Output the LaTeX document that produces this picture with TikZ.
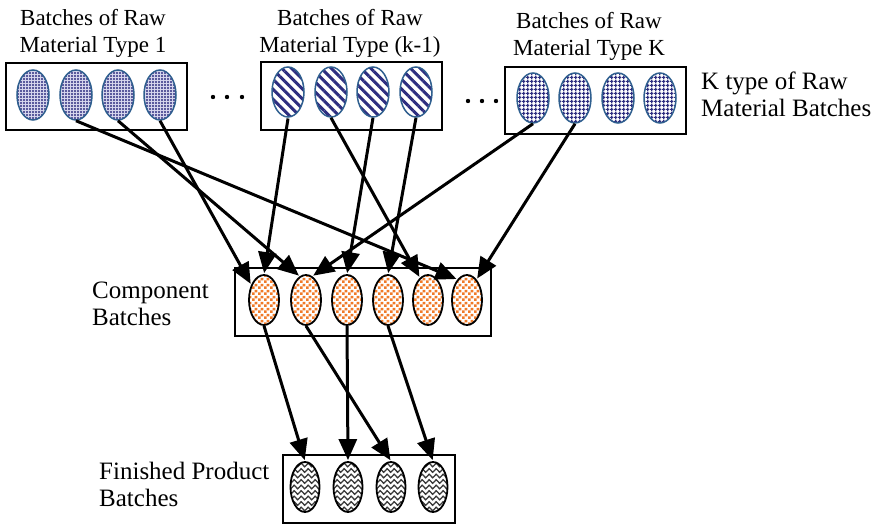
\documentclass[tikz,border=0pt]{standalone}
\usepackage{fontspec}
\setmainfont{Liberation Serif}
\usetikzlibrary{shapes.geometric, arrows.meta, patterns.meta, decorations.pathmorphing, calc}
\definecolor{navyp}{HTML}{2E2E80}
\definecolor{edgeblue}{HTML}{2F5F8F}
\definecolor{orangep}{HTML}{F07A28}
\definecolor{wavegray}{HTML}{3A3A3A}
\definecolor{dotbg}{HTML}{D8D8EE}
\tikzdeclarepattern{
  name=mychecker, type=uncolored,
  bounding box={(0pt,0pt) and (6pt,6pt)},
  tile size={(6pt,6pt)},
  code={\fill (0pt,0pt) rectangle (3pt,3pt); \fill (3pt,3pt) rectangle (6pt,6pt);}
}
\begin{document}
\begin{tikzpicture}[x=1pt,y=-1pt,
  box/.style={draw, line width=2.8pt, inner sep=0pt},
  rawell/.style={ellipse, draw=edgeblue, line width=1.5pt, minimum width=32pt, minimum height=50pt, inner sep=0pt},
  rawdots/.style={rawell, preaction={fill=dotbg}, pattern={Dots[distance=3pt,radius=1.1pt]}, pattern color=navyp},
  rawstripes/.style={rawell, preaction={fill=white}, pattern={Lines[angle=-45,distance=7pt,line width=3pt]}, pattern color=navyp},
  rawgrid/.style={rawell, preaction={fill=white}, pattern={Hatch[angle=0,distance=4pt,line width=1.5pt]}, pattern color=navyp},
  compell/.style={ellipse, draw=black, line width=1.8pt, minimum width=30pt, minimum height=50pt, inner sep=0pt, preaction={fill=white}, pattern=mychecker, pattern color=orangep},
  finell/.style={ellipse, draw=black, line width=1.8pt, minimum width=29pt, minimum height=50pt, inner sep=0pt, fill=white,
    path picture={\foreach \k in {-5,...,5} \draw[wavegray, line width=1.3pt, decorate, decoration={snake, amplitude=1.8pt, segment length=7pt}] ($(path picture bounding box.center)+(-20pt,\k*5.5pt)$) -- ++(40pt,0pt);}},
  arr/.style={line width=3pt, shorten >=1pt, -{Triangle[length=21pt,width=18pt]}},
  lbl/.style={inner sep=0pt, font=\fontsize{23}{27}\selectfont},
  lblb/.style={inner sep=0pt, font=\fontsize{25}{27}\selectfont}]
\useasboundingbox (0,0) rectangle (881,529);

% boxes
\node[box, minimum width=181pt, minimum height=67pt] (b1) at (96.5,96.5) {};
\node[box, minimum width=181pt, minimum height=68pt] (b2) at (351.5,96) {};
\node[box, minimum width=181pt, minimum height=67pt] (b3) at (595.5,100.5) {};
\node[box, minimum width=256pt, minimum height=68pt] (bc) at (363,302) {};
\node[box, minimum width=172pt, minimum height=68pt] (bf) at (369,489) {};

% raw ellipses
\node[rawdots] (r11) at (33,95) {};
\node[rawdots] (r12) at (76,95) {};
\node[rawdots] (r13) at (118,95) {};
\node[rawdots] (r14) at (160,95) {};
\node[rawstripes] (r21) at (288,92) {};
\node[rawstripes] (r22) at (331,92) {};
\node[rawstripes] (r23) at (373,92) {};
\node[rawstripes] (r24) at (416,92) {};
\node[rawgrid] (r31) at (533,98) {};
\node[rawgrid] (r32) at (575,98) {};
\node[rawgrid] (r33) at (618,98) {};
\node[rawgrid] (r34) at (660,98) {};

% component ellipses
\node[compell] (c1) at (264,300) {};
\node[compell] (c2) at (306,300) {};
\node[compell] (c3) at (347,300) {};
\node[compell] (c4) at (388,300) {};
\node[compell] (c5) at (428,300) {};
\node[compell] (c6) at (467,300) {};

% finished ellipses
\node[finell] (f1) at (305,487) {};
\node[finell] (f2) at (348,487) {};
\node[finell] (f3) at (391,487) {};
\node[finell] (f4) at (433,487) {};

% ellipsis dots
\foreach \x/\y in {213/97,227/97,242/97,468/101,482/101,496/101} \fill (\x,\y) circle (2.2pt);

% arrows raw -> component
\draw[arr] (r12.south) -- (c6.115);
\draw[arr] (r13.south) -- (c2.105);
\draw[arr] (r14.south) -- (c1.130);
\draw[arr] (r21.south) -- (c1.north);
\draw[arr] (r22.south) -- (c5.110);
\draw[arr] (r23.south) -- (c3.north);
\draw[arr] (r24.south) -- (c4.north);
\draw[arr] (r31.south) -- (c2.75);
\draw[arr] (r32.south) -- (c6.65);

% arrows component -> finished
\draw[arr] (c1.south) -- (f1.north);
\draw[arr] (c2.south) -- (f3.north);
\draw[arr] (c3.south) -- (f2.north);
\draw[arr] (c4.south) -- (f4.north);

% labels
\node[lbl, align=center] (t1) at (93,33) {Batches of Raw\\Material Type 1};
\node[lbl, align=center] (t2) at (350,33) {Batches of Raw\\Material Type (k-1)};
\node[lbl, align=center] (t3) at (589,36) {Batches of Raw\\Material Type K};
\node[lblb, align=left, anchor=west] (tk) at (701,94) {K type of Raw\\Material Batches};
\node[lblb, align=left, anchor=west] (tc) at (92,303.5) {Component\\Batches};
\node[lblb, align=left, anchor=west] (tf) at (99,484) {Finished Product\\Batches};
\end{tikzpicture}
\end{document}
